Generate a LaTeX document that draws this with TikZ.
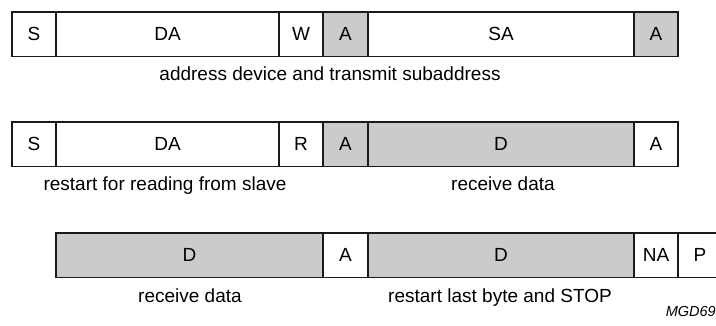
\documentclass[tikz,border=0pt]{standalone}
\usepackage{fontspec}
\setmainfont{Liberation Sans}
\usepackage{tikz}
\usetikzlibrary{positioning}
\definecolor{FigLine}{HTML}{1A1A1A}
\definecolor{FigAck}{HTML}{CBCBCB}

\begin{document}
\begin{tikzpicture}[
x=1pt, y=-1pt,
font=\fontsize{19}{22}\selectfont,
field/.style={
draw=FigLine,
line width=1.3pt,
fill=white,
inner sep=0pt,
outer sep=0pt,
minimum height=44.5pt
},
ackfield/.style={field, fill=FigAck},
caption/.style={anchor=base, inner sep=0pt}
]

\clip (0,0) rectangle (716,325);

% First frame: address device and subaddress
\node[field, minimum width=44pt, anchor=north west] (s1) at (12,12) {S};
\node[field, minimum width=223pt, right=0pt of s1] (da1) {DA};
\node[field, minimum width=44pt, right=0pt of da1] (w1) {W};
\node[ackfield, minimum width=45pt, right=0pt of w1] (ack1) {A};
\node[field, minimum width=266pt, right=0pt of ack1] (sa1) {SA};
\node[ackfield, minimum width=44pt, right=0pt of sa1] (ack2) {A};
\node[caption] (cap1) at (330,80) {address device and transmit subaddress};

% Second frame: restart and read
\node[field, minimum width=44pt, anchor=north west] (s2) at (12,122) {S};
\node[field, minimum width=223pt, right=0pt of s2] (da2) {DA};
\node[field, minimum width=44pt, right=0pt of da2] (r2) {R};
\node[ackfield, minimum width=45pt, right=0pt of r2] (ack3) {A};
\node[ackfield, minimum width=266pt, right=0pt of ack3] (d1) {D};
\node[field, minimum width=44pt, right=0pt of d1] (ack4) {A};
\node[caption] (cap2) at (165,190) {restart for reading from slave};
\node[caption] (cap3) at (503,190) {receive data};

% Third frame: last bytes and stop
\node[ackfield, minimum width=267pt, anchor=north west] (d2) at (56,233) {D};
\node[field, minimum width=45pt, right=0pt of d2] (ack5) {A};
\node[ackfield, minimum width=266pt, right=0pt of ack5] (d3) {D};
\node[field, minimum width=44pt, right=0pt of d3] (nack) {NA};
\node[field, minimum width=44pt, right=0pt of nack] (stop) {P};
\node[caption] (cap4) at (190,302) {receive data};
\node[caption] (cap5) at (500,302) {restart last byte and STOP};

% Figure code
\node[anchor=base east, inner sep=0pt, font=\fontsize{14.5}{16}\selectfont\itshape] (code) at (716,316) {MGD69};

\end{tikzpicture}
\end{document}
